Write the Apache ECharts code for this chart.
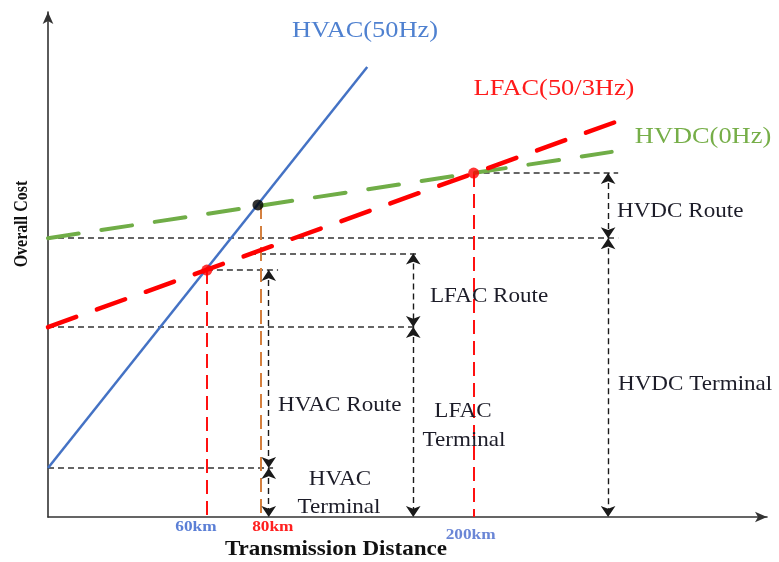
<!DOCTYPE html>
<html>
<head>
<meta charset="utf-8">
<script src="https://cdn.jsdelivr.net/npm/echarts@6/dist/echarts.min.js"></script>
<style>html,body{margin:0;padding:0;background:#fff}#chart{width:779px;height:562px}</style>
</head>
<body>
<div id="chart"></div>
<script>
// ---- data (schematic units: distance 0-100, cost 0-100) ----
const hvacLine = [[0, 9.7], [44.4, 89.1]];
const lfacLine = [[0, 37.6], [78.9, 78.2]];
const hvdcLine = [[0, 55.2], [78.4, 72.3]];
const crossPoints = [[22.1, 48.9], [29.2, 61.8], [59.2, 68.1]];
const crossColors = ['#ff0000', '#000000', '#ff0000'];
// horizontal guides: [y, xStart, xEnd]
const guideLevels = [[55.2, 0, 79.3], [68.1, 59.2, 79.3], [37.6, 0, 51.3], [52.2, 28.1, 51.3], [48.9, 22.1, 32.0], [9.7, 0, 31.3]];
// vertical drops: [x, yTop]
const dropRed = [[22.1, 48.9], [59.2, 68.1]];
const dropOrange = [[29.6, 61.8]];
// dimension arrows: [x, yFrom, yTo]
const dimArrows = [[30.7, 48.9, 9.7], [30.7, 9.7, 0], [50.8, 52.2, 37.6], [50.8, 37.6, 0], [77.9, 68.1, 55.2], [77.9, 55.2, 0]];
const tickLabels = ['60km', '80km', '200km'];
const tickValues = [22.1, 29.6, 59.2];
const tickColors = ['#5b7fd6', '#ff2020', '#6a86d6'];
const tickOffsets = [[-11, 10], [12, 10], [-3, 18]];

const chart = echarts.init(document.getElementById('chart'));
const serif = '"Liberation Serif", "Times New Roman", serif';

const option = {
  animation: false,
  grid: { left: 48, right: 12, top: 12, bottom: 45 },
  xAxis: {
    type: 'value', min: 0, max: 100,
    axisLine: { show: true, onZero: false, symbol: ['none', 'arrow'], symbolSize: [8, 12], lineStyle: { color: '#333', width: 1.6 } },
    axisTick: { show: false }, axisLabel: { show: false }, splitLine: { show: false }
  },
  yAxis: {
    type: 'value', min: 0, max: 100,
    axisLine: { show: true, onZero: false, symbol: ['none', 'arrow'], symbolSize: [8, 12], lineStyle: { color: '#333', width: 1.6 } },
    axisTick: { show: false }, axisLabel: { show: false }, splitLine: { show: false }
  },
  series: [
    {
      type: 'lines', coordinateSystem: 'cartesian2d', z: 2, symbol: 'none',
      lineStyle: { color: '#333', width: 1.5, type: [6, 4], opacity: 1 },
      data: guideLevels.map(g => ({ coords: [[g[1], g[0]], [g[2], g[0]]] }))
    },
    {
      type: 'lines', coordinateSystem: 'cartesian2d', z: 2, symbol: 'none',
      lineStyle: { color: '#ff1010', width: 2, type: [14, 7], opacity: 1 },
      data: dropRed.map(d => ({ coords: [[d[0], d[1]], [d[0], 0]] }))
    },
    {
      type: 'lines', coordinateSystem: 'cartesian2d', z: 2, symbol: 'none',
      lineStyle: { color: '#d4803f', width: 2, type: [14, 7], opacity: 1 },
      data: dropOrange.map(d => ({ coords: [[d[0], d[1]], [d[0], 0]] }))
    },
    {
      type: 'lines', coordinateSystem: 'cartesian2d', z: 3,
      symbol: ['arrow', 'arrow'], symbolSize: 11,
      lineStyle: { color: '#1a1a1a', width: 1.4, type: [6, 4], opacity: 1 },
      itemStyle: { color: '#1a1a1a' },
      data: dimArrows.map(a => ({ coords: [[a[0], a[1]], [a[0], a[2]]] }))
    },
    {
      name: 'HVAC', type: 'line', data: hvacLine, symbol: 'none', z: 4,
      lineStyle: { color: '#4472c4', width: 2.5 }
    },
    {
      name: 'HVDC', type: 'line', data: hvdcLine, symbol: 'none', z: 4,
      lineStyle: { color: '#70ad47', width: 4, type: [31, 23], cap: 'round' }
    },
    {
      name: 'LFAC', type: 'line', data: lfacLine, symbol: 'none', z: 5,
      lineStyle: { color: '#ff0000', width: 4.5, type: [30, 22], cap: 'round' }
    },
    {
      type: 'scatter', z: 6, symbolSize: 11,
      data: crossPoints.map((p, i) => ({ value: p, itemStyle: { color: crossColors[i] } }))
    }
  ]
};
chart.setOption(option);

function txt(x, y, text, opts) {
  return Object.assign({
    type: 'text', x: x, y: y, scaleX: 1.1, silent: true, z: 10,
    style: Object.assign({ text: text, x: 0, y: 0, textAlign: 'center', textVerticalAlign: 'middle', font: '21px ' + serif, fill: '#1c1c28' }, opts.style || {})
  }, opts.el || {});
}

const graphics = [
  txt(365, 31, 'HVAC(50Hz)', { style: { font: '24px ' + serif, fill: '#4f81d0' } }),
  txt(554, 89, 'LFAC(50/3Hz)', { style: { font: '24px ' + serif, fill: '#ff1a1a' } }),
  txt(703, 137, 'HVDC(0Hz)', { style: { font: '24px ' + serif, fill: '#76ae48' } }),
  txt(617, 211, 'HVDC Route', { style: { textAlign: 'left' } }),
  txt(430, 296, 'LFAC Route', { style: { textAlign: 'left' } }),
  txt(618, 384, 'HVDC Terminal', { style: { textAlign: 'left' } }),
  txt(278, 405, 'HVAC Route', { style: { textAlign: 'left' } }),
  txt(463, 411, 'LFAC', {}),
  txt(464, 440, 'Terminal', {}),
  txt(340, 479, 'HVAC', {}),
  txt(339, 507, 'Terminal', {}),
  txt(336, 550, 'Transmission Distance', { style: { font: 'bold 21px ' + serif, fill: '#111' } }),
  { type: 'text', x: 22, y: 224, rotation: Math.PI / 2, scaleY: 1.15, silent: true, z: 10,
    style: { text: 'Overall Cost', x: 0, y: 0, textAlign: 'center', textVerticalAlign: 'middle', font: 'bold 16px ' + serif, fill: '#111' } }
];
tickLabels.forEach((t, i) => {
  const p = chart.convertToPixel({ gridIndex: 0 }, [tickValues[i], 0]);
  graphics.push(txt(p[0] + tickOffsets[i][0], p[1] + tickOffsets[i][1], t, {
    el: { scaleX: 1.15 },
    style: { font: 'bold 15px ' + serif, fill: tickColors[i] }
  }));
});
chart.setOption({ graphic: graphics });
</script>
</body>
</html>
